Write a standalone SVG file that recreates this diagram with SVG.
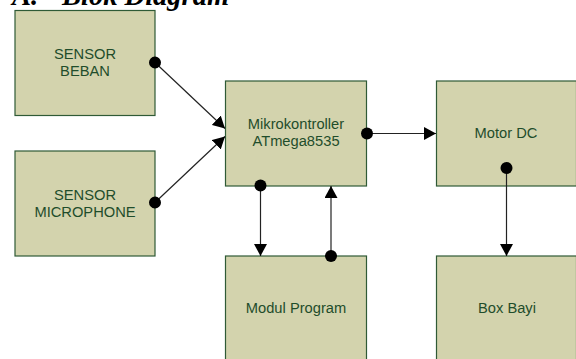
<svg xmlns="http://www.w3.org/2000/svg" width="576" height="359" viewBox="0 0 576 359">
<style>
.box{fill:#D3D3AD;stroke:#2F5A36;stroke-width:1.2}
.lbl{font-family:"Liberation Sans",Arial,sans-serif;font-size:14.7px;fill:#1F4D2B;text-anchor:middle}
.title{font-family:"Liberation Serif","Times New Roman",serif;font-size:28.5px;font-weight:bold;font-style:italic;fill:#000}
.conn{stroke:#222;stroke-width:1.2;fill:none;marker-start:url(#dot);marker-end:url(#arr)}
</style>
<defs>
<marker id="dot" markerUnits="userSpaceOnUse" markerWidth="14" markerHeight="14" refX="7" refY="7" orient="auto">
<circle cx="7" cy="7" r="6" fill="#000"/>
</marker>
<marker id="arr" markerUnits="userSpaceOnUse" markerWidth="13" markerHeight="13" refX="12" refY="6.5" orient="auto">
<path d="M0,0 L12,6.5 L0,13 Z" fill="#000"/>
</marker>
</defs>
<g id="title">
<text class="title" x="12" y="5">A.</text>
<text class="title" x="62" y="5">Blok Diagram</text>
</g>
<g id="sensor-beban">
<rect class="box" x="15" y="10.5" width="140" height="105"/>
<text class="lbl" x="85" y="59">SENSOR</text>
<text class="lbl" x="85" y="76">BEBAN</text>
</g>
<g id="sensor-microphone">
<rect class="box" x="15" y="151" width="140" height="105"/>
<text class="lbl" x="85" y="199.5">SENSOR</text>
<text class="lbl" x="85" y="216.5">MICROPHONE</text>
</g>
<g id="mikrokontroller">
<rect class="box" x="225.5" y="81" width="141" height="105"/>
<text class="lbl" x="296" y="129">Mikrokontroller</text>
<text class="lbl" x="296" y="145.5">ATmega8535</text>
</g>
<g id="motor-dc">
<rect class="box" x="436.5" y="81" width="140" height="105"/>
<text class="lbl" x="506" y="138">Motor DC</text>
</g>
<g id="modul-program">
<rect class="box" x="225.5" y="256" width="141" height="110"/>
<text class="lbl" x="296" y="313">Modul Program</text>
</g>
<g id="box-bayi">
<rect class="box" x="436.5" y="256" width="140" height="110"/>
<text class="lbl" x="507" y="313">Box Bayi</text>
</g>
<g id="connectors">
<line class="conn" x1="155" y1="62.5" x2="225" y2="128.5"/>
<line class="conn" x1="155" y1="202.5" x2="225" y2="136.5"/>
<line class="conn" x1="367" y1="133.5" x2="436" y2="133.5"/>
<line class="conn" x1="260.5" y1="185.5" x2="260.5" y2="256"/>
<line class="conn" x1="331" y1="256" x2="331" y2="186"/>
<line class="conn" x1="506.5" y1="168" x2="506.5" y2="256"/>
</g>
</svg>
